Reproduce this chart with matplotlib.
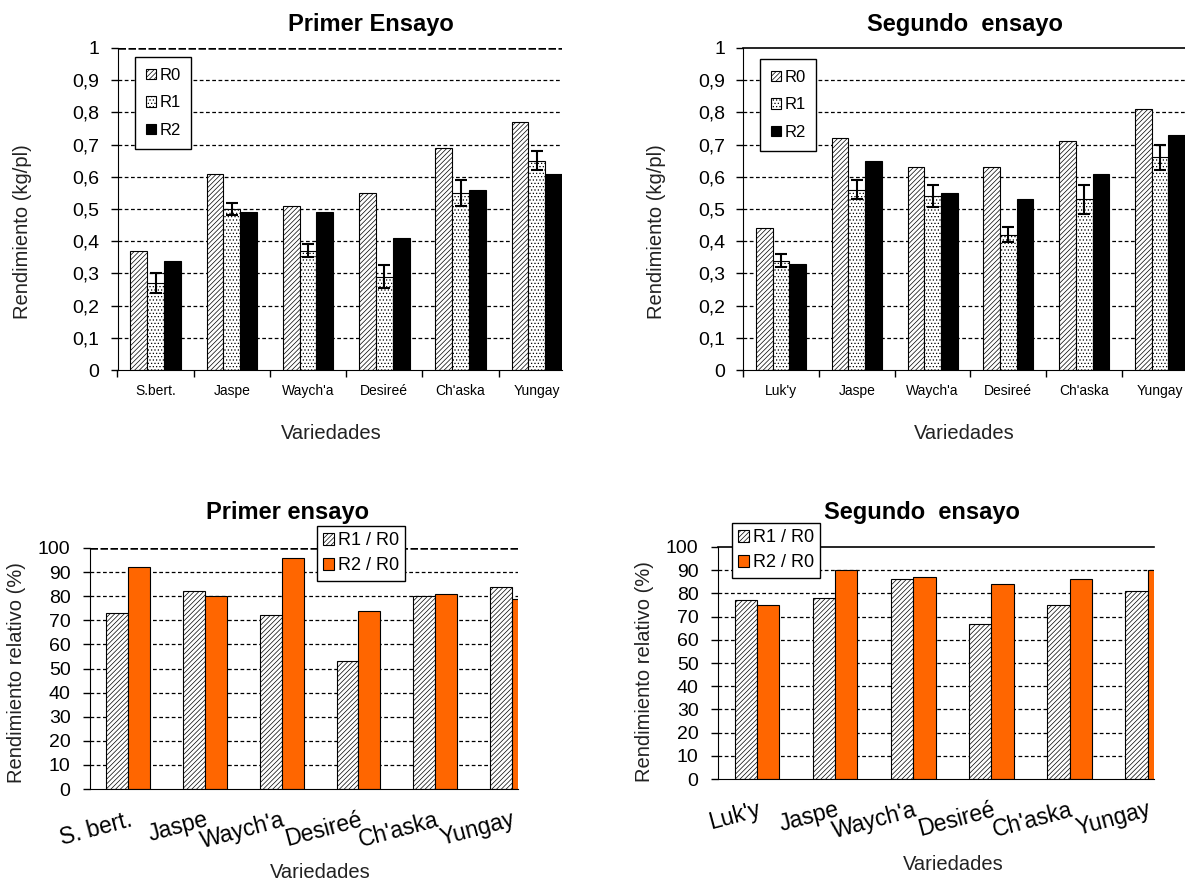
import matplotlib
matplotlib.use("Agg")
import matplotlib.pyplot as plt
import numpy as np

plt.rcParams["font.family"] = ["Liberation Sans", "DejaVu Sans"]
plt.rcParams["hatch.linewidth"] = 0.5

# --- data ---
var_1 = ["S.bert.", "Jaspe", "Waych'a", "Desireé", "Ch'aska", "Yungay"]
var_2 = ["Luk'y", "Jaspe", "Waych'a", "Desireé", "Ch'aska", "Yungay"]
var_1_rel = ["S. bert.", "Jaspe", "Waych'a", "Desireé", "Ch'aska", "Yungay"]

r0_1 = [0.37, 0.61, 0.51, 0.55, 0.69, 0.77]
r1_1 = [0.27, 0.50, 0.37, 0.29, 0.55, 0.65]
r2_1 = [0.34, 0.49, 0.49, 0.41, 0.56, 0.61]
r1_err_1 = [0.03, 0.02, 0.02, 0.035, 0.04, 0.03]

r0_2 = [0.44, 0.72, 0.63, 0.63, 0.71, 0.81]
r1_2 = [0.34, 0.56, 0.54, 0.42, 0.53, 0.66]
r2_2 = [0.33, 0.65, 0.55, 0.53, 0.61, 0.73]
r1_err_2 = [0.02, 0.03, 0.034, 0.023, 0.045, 0.04]

rel_r1_1 = [73, 82, 72, 53, 80, 84]
rel_r2_1 = [92, 80, 96, 74, 81, 79]
rel_r1_2 = [77, 78, 86, 67, 75, 81]
rel_r2_2 = [75, 90, 87, 84, 86, 90]

ORANGE = "#FF6600"
W, H = 1185, 884


def fig_rect(left, top, right, bottom):
    return [left / W, 1 - bottom / H, (right - left) / W, (bottom - top) / H]


def grid(ax, levels, top_dashed):
    for v in levels:
        ax.axhline(v, color="black", lw=0.9, ls=(0, (3, 2)), zorder=0.5)
    ax.spines["right"].set_visible(False)
    if top_dashed:
        ax.spines["top"].set_visible(False)
        ax.axhline(ax.get_ylim()[1], color="black", lw=1.8, ls=(0, (3, 1)), zorder=0.5)
    else:
        ax.spines["top"].set_linewidth(1.2)


def add_legend(ax, handles, labels, xy, fs, ls, bp):
    leg = ax.legend(handles, labels, loc="upper left",
                    bbox_to_anchor=(xy[0] / W, 1 - xy[1] / H),
                    bbox_transform=fig.transFigure, fontsize=fs, frameon=True,
                    fancybox=False, edgecolor="black", framealpha=1,
                    handlelength=0.6, handleheight=0.6, handletextpad=0.2,
                    labelspacing=ls, borderpad=bp, borderaxespad=0)
    leg.get_frame().set_linewidth(1.0)


fig = plt.figure(figsize=(W / 100, H / 100), dpi=100)


def yield_panel(rect, names, r0, r1, r2, err, title, title_x, top_dashed, leg_xy):
    ax = fig.add_axes(rect)
    x = np.arange(len(names))
    w = 0.22
    b0 = ax.bar(x - w, r0, w, color="white", edgecolor="black", hatch="///////", lw=0.8, zorder=2)
    b1 = ax.bar(x, r1, w, color="white", edgecolor="black", hatch=".....", lw=0.8, zorder=2)
    b2 = ax.bar(x + w, r2, w, color="black", edgecolor="black", lw=0.8, zorder=2)
    ax.errorbar(x, r1, yerr=err, fmt="none", ecolor="black", elinewidth=1.5,
                capsize=4, capthick=1.5, zorder=3)
    ax.set_ylim(0, 1)
    ax.set_xlim(-0.5, 5.33)
    ticks = np.arange(0, 1.01, 0.1)
    ax.set_yticks(ticks)
    ax.set_yticklabels([("%g" % round(t, 1)).replace(".", ",") for t in ticks], fontsize=14)
    ax.tick_params(axis="y", length=5, width=1, pad=8)
    ax.set_xticks(x)
    ax.set_xticklabels(names, fontsize=10)
    ax.tick_params(axis="x", which="major", length=0, pad=10)
    ax.set_xticks(np.arange(-0.5, 5.0, 1.0), minor=True)
    ax.tick_params(axis="x", which="minor", length=5, width=1)
    grid(ax, np.arange(0.1, 1.0, 0.1), top_dashed)
    add_legend(ax, [b0, b1, b2], ["R0", "R1", "R2"], leg_xy, 12, 0.75, 0.65)
    fig.text(title_x / W, 1 - 25 / H, title, fontsize=17, fontweight="bold",
             ha="center", va="center")
    return ax


def rel_panel(rect, names, r1, r2, title, title_x, top_dashed, leg_xy):
    ax = fig.add_axes(rect)
    x = np.arange(len(names))
    w = 0.285
    b1 = ax.bar(x - w / 2, r1, w, color="white", edgecolor="black", hatch="///////", lw=0.8, zorder=2)
    b2 = ax.bar(x + w / 2, r2, w, color=ORANGE, edgecolor="black", lw=0.8, zorder=2)
    ax.set_ylim(0, 100)
    ax.set_xlim(-0.5, 5.08)
    ax.set_yticks(np.arange(0, 101, 10))
    ax.tick_params(axis="y", length=5, width=1, pad=9, labelsize=14)
    ax.set_xticks(x)
    ax.set_xticklabels(names, fontsize=16.5, rotation=15, ha="right",
                       rotation_mode="anchor")
    ax.tick_params(axis="x", length=0, pad=14)
    grid(ax, np.arange(10, 100, 10), top_dashed)
    add_legend(ax, [b1, b2], ["R1 / R0", "R2 / R0"], leg_xy, 13, 0.45, 0.35)
    fig.text(title_x / W, 1 - 512 / H, title, fontsize=17, fontweight="bold",
             ha="center", va="center")
    return ax


yield_panel(fig_rect(117.5, 48, 562, 370), var_1, r0_1, r1_1, r2_1, r1_err_1,
            "Primer Ensayo", 371, True, (135, 57))
yield_panel(fig_rect(743, 48, 1185, 370), var_2, r0_2, r1_2, r2_2, r1_err_2,
            "Segundo  ensayo", 965, False, (760, 59))
rel_panel(fig_rect(90, 548, 518, 789), var_1_rel, rel_r1_1, rel_r2_1,
          "Primer ensayo", 288, True, (317, 526))
rel_panel(fig_rect(718, 547, 1154, 779), var_2, rel_r1_2, rel_r2_2,
          "Segundo  ensayo", 922, False, (732, 523))

# axis titles placed like the original layout
for xx, yy in [(331, 433), (964, 433), (320, 873), (953, 865)]:
    fig.text(xx / W, 1 - yy / H, "Variedades", fontsize=14.5, ha="center",
             va="center", color="#222222")
for xx, yy in [(23, 232), (656, 232)]:
    fig.text(xx / W, 1 - yy / H, "Rendimiento (kg/pl)", fontsize=14.5,
             rotation=90, ha="center", va="center", color="#222222")
for xx, yy in [(17, 673), (645, 672)]:
    fig.text(xx / W, 1 - yy / H, "Rendimiento relativo (%)", fontsize=14.5,
             rotation=90, ha="center", va="center", color="#222222")

fig.savefig("out.png", dpi=100)
